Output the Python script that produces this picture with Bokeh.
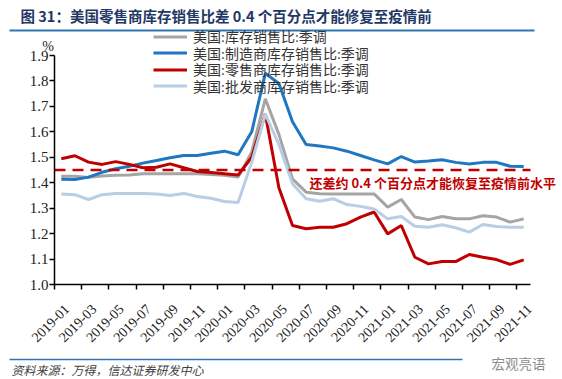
from math import pi
import numpy as np
from bokeh.plotting import figure
from bokeh.models import (FixedTicker, Label, Legend, LegendItem, Arrow,
                          PrintfTickFormatter, ColumnDataSource)
from bokeh.embed import file_html
from bokeh.resources import INLINE

# ---------------- data ----------------
months = ["2019-01", "2019-02", "2019-03", "2019-04", "2019-05", "2019-06",
          "2019-07", "2019-08", "2019-09", "2019-10", "2019-11", "2019-12",
          "2020-01", "2020-02", "2020-03", "2020-04", "2020-05", "2020-06",
          "2020-07", "2020-08", "2020-09", "2020-10", "2020-11", "2020-12",
          "2021-01", "2021-02", "2021-03", "2021-04", "2021-05", "2021-06",
          "2021-07", "2021-08", "2021-09", "2021-10", "2021-11"]

total = [1.425, 1.425, 1.421, 1.426, 1.429, 1.430, 1.435, 1.435, 1.435, 1.435,
         1.435, 1.432, 1.429, 1.422, 1.520, 1.730, 1.590, 1.415, 1.363, 1.357,
         1.356, 1.356, 1.356, 1.356, 1.304, 1.334, 1.265, 1.255, 1.267, 1.258,
         1.258, 1.270, 1.265, 1.245, 1.258]

manufacturing = [1.414, 1.413, 1.422, 1.441, 1.455, 1.465, 1.477, 1.487, 1.498, 1.507,
                 1.507, 1.516, 1.524, 1.510, 1.600, 1.830, 1.790, 1.640, 1.550, 1.544,
                 1.537, 1.524, 1.507, 1.490, 1.474, 1.503, 1.481, 1.485, 1.490, 1.480,
                 1.474, 1.480, 1.480, 1.465, 1.464]

retail = [1.494, 1.506, 1.481, 1.472, 1.483, 1.472, 1.459, 1.461, 1.474, 1.459,
          1.444, 1.440, 1.435, 1.430, 1.500, 1.670, 1.380, 1.232, 1.219, 1.225,
          1.225, 1.239, 1.265, 1.285, 1.199, 1.232, 1.107, 1.081, 1.090, 1.090,
          1.118, 1.107, 1.098, 1.079, 1.097]

wholesale = [1.356, 1.353, 1.334, 1.353, 1.358, 1.358, 1.358, 1.356, 1.350, 1.358,
             1.346, 1.339, 1.326, 1.322, 1.480, 1.670, 1.550, 1.396, 1.337, 1.327,
             1.337, 1.314, 1.307, 1.297, 1.258, 1.267, 1.229, 1.225, 1.235, 1.223,
             1.206, 1.236, 1.228, 1.225, 1.225]

pre_covid_level = 1.45
y_ticks = [1.0, 1.1, 1.2, 1.3, 1.4, 1.5, 1.6, 1.7, 1.8, 1.9]

series_names = ["美国:库存销售比:季调", "美国:制造商库存销售比:季调",
                "美国:零售商库存销售比:季调", "美国:批发商库存销售比:季调"]
series_colors = ["#A5A5A5", "#1F77C2", "#C00000", "#B9CDE5"]

title_text = "图 31：美国零售商库存销售比差 0.4 个百分点才能修复至疫情前"
note_text = "还差约 0.4 个百分点才能恢复至疫情前水平"
source_text = "资料来源：万得，信达证券研发中心"
mark_text = "宏观亮语"

# ---------------- layout ----------------
W, H = 562, 379
N = len(months)
Y0, Y1 = 1.0, 1.9
AX_L, AX_R = 54, 530      # pixel x of the axis ends
AX_T, AX_B = 55, 284      # pixel y of the axis ends
PX_X = (AX_R - AX_L) / N
PX_Y = (AX_B - AX_T) / (Y1 - Y0)


def xd(px):
    return (px - AX_L) / PX_X


def yd(py):
    return Y0 + (AX_B - py) / PX_Y


SERIF = "Liberation Serif"
CJK_SERIF = "Liberation Serif, Noto Sans CJK SC"
CJK = "Noto Sans CJK SC"

p = figure(width=W, height=H, x_range=(xd(0), xd(W)), y_range=(yd(H), yd(0)),
           output_backend="svg", toolbar_location=None,
           min_border_left=0, min_border_right=0, min_border_top=0, min_border_bottom=0)
p.outline_line_color = None
p.xgrid.visible = False
p.ygrid.visible = False
p.background_fill_color = "white"
p.border_fill_color = "white"

src = ColumnDataSource(dict(x=np.arange(N) + 0.5, total=total, manufacturing=manufacturing,
                            retail=retail, wholesale=wholesale))

renderers = []
for col, color in zip(["total", "manufacturing", "retail", "wholesale"], series_colors):
    r = p.line("x", col, source=src, line_color=color, line_width=3)
    renderers.append(r)

# pre-covid reference level (dashed)
p.segment(x0=[0], y0=[pre_covid_level], x1=[N], y1=[pre_covid_level],
          line_color="#C00000", line_width=2.5, line_dash="11 7")

# axes
LABEL_SHIFT = 0.9  # labels sit a little right of each category boundary
xa = p.xaxis[0]
xa.fixed_location = Y0
xa.bounds = (0, N)
xa.ticker = FixedTicker(ticks=[i + LABEL_SHIFT for i in range(0, N, 2)],
                        minor_ticks=list(range(0, N, 2)))
xa.major_label_overrides = {i + LABEL_SHIFT: months[i] for i in range(0, N, 2)}
xa.major_label_orientation = pi / 4
xa.major_tick_line_color = None
xa.major_tick_out = 0
xa.major_tick_in = 0
xa.minor_tick_out = 5
xa.minor_tick_in = 0
xa.minor_tick_line_color = "black"
xa.minor_tick_line_width = 1.5
xa.major_label_standoff = 17
xa.major_label_text_font = SERIF
xa.major_label_text_font_size = "14px"
xa.major_label_text_color = "#222222"
xa.axis_line_color = "black"
xa.axis_line_width = 1.5

ya = p.yaxis[0]
ya.fixed_location = 0
ya.bounds = (Y0, Y1)
ya.ticker = FixedTicker(ticks=y_ticks)
ya.formatter = PrintfTickFormatter(format="%.1f")
ya.major_tick_out = 5
ya.major_tick_in = 0
ya.major_tick_line_width = 1.5
ya.minor_tick_line_color = None
ya.major_label_standoff = 1
ya.major_label_text_font = SERIF
ya.major_label_text_font_size = "15px"
ya.major_label_text_color = "#222222"
ya.axis_line_color = "black"
ya.axis_line_width = 1.5

# legend: one single-row legend per series so the row pitch matches the reference
ROW_CENTERS = [36, 52.5, 69, 85.5]   # pixel y of each legend row
ROW_HALF = 10                        # half of a legend row's height
for name, r, cy in zip(series_names, renderers, ROW_CENTERS):
    lg = Legend(items=[LegendItem(label=name, renderers=[r])],
                location=(153, H - (cy + ROW_HALF)), orientation="vertical",
                glyph_width=34, glyph_height=15, label_height=15, spacing=0,
                padding=0, margin=0, label_standoff=6,
                border_line_color=None, background_fill_alpha=0,
                label_text_font=CJK_SERIF, label_text_font_size="14px",
                label_text_line_height=1.0,
                label_text_color="#333333")
    p.add_layout(lg)

# texts
p.add_layout(Label(x=xd(47.5), y=yd(46), text="%", text_font=SERIF, text_font_size="14px",
                   text_align="center", text_baseline="middle", text_color="#222222"))
p.add_layout(Label(x=xd(309), y=yd(182), text=note_text, text_font=CJK, text_font_size="13px",
                   text_font_style="bold", text_color="#C00000", text_baseline="middle"))
p.add_layout(Label(x=xd(20), y=yd(15), text=title_text, text_font=CJK, text_font_size="14.5px",
                   text_font_style="bold", text_color="#1F3864", text_baseline="middle"))
p.add_layout(Arrow(end=None, x_start=xd(9), y_start=yd(30), x_end=xd(534), y_end=yd(30),
                   line_color="#2E75B6", line_width=2))
p.add_layout(Arrow(end=None, x_start=xd(9), y_start=yd(359), x_end=xd(462), y_end=yd(359),
                   line_color="#2E75B6", line_width=1.5))
p.add_layout(Label(x=xd(11), y=yd(369), text=source_text, text_font=CJK, text_font_size="12px",
                   text_font_style="italic", text_color="#404040", text_baseline="middle"))
p.add_layout(Label(x=xd(491), y=yd(362), text=mark_text, text_font=CJK, text_font_size="13.5px",
                   text_color="#8C8C8C", text_baseline="middle"))

open("out.html", "w").write(file_html(p, INLINE))
